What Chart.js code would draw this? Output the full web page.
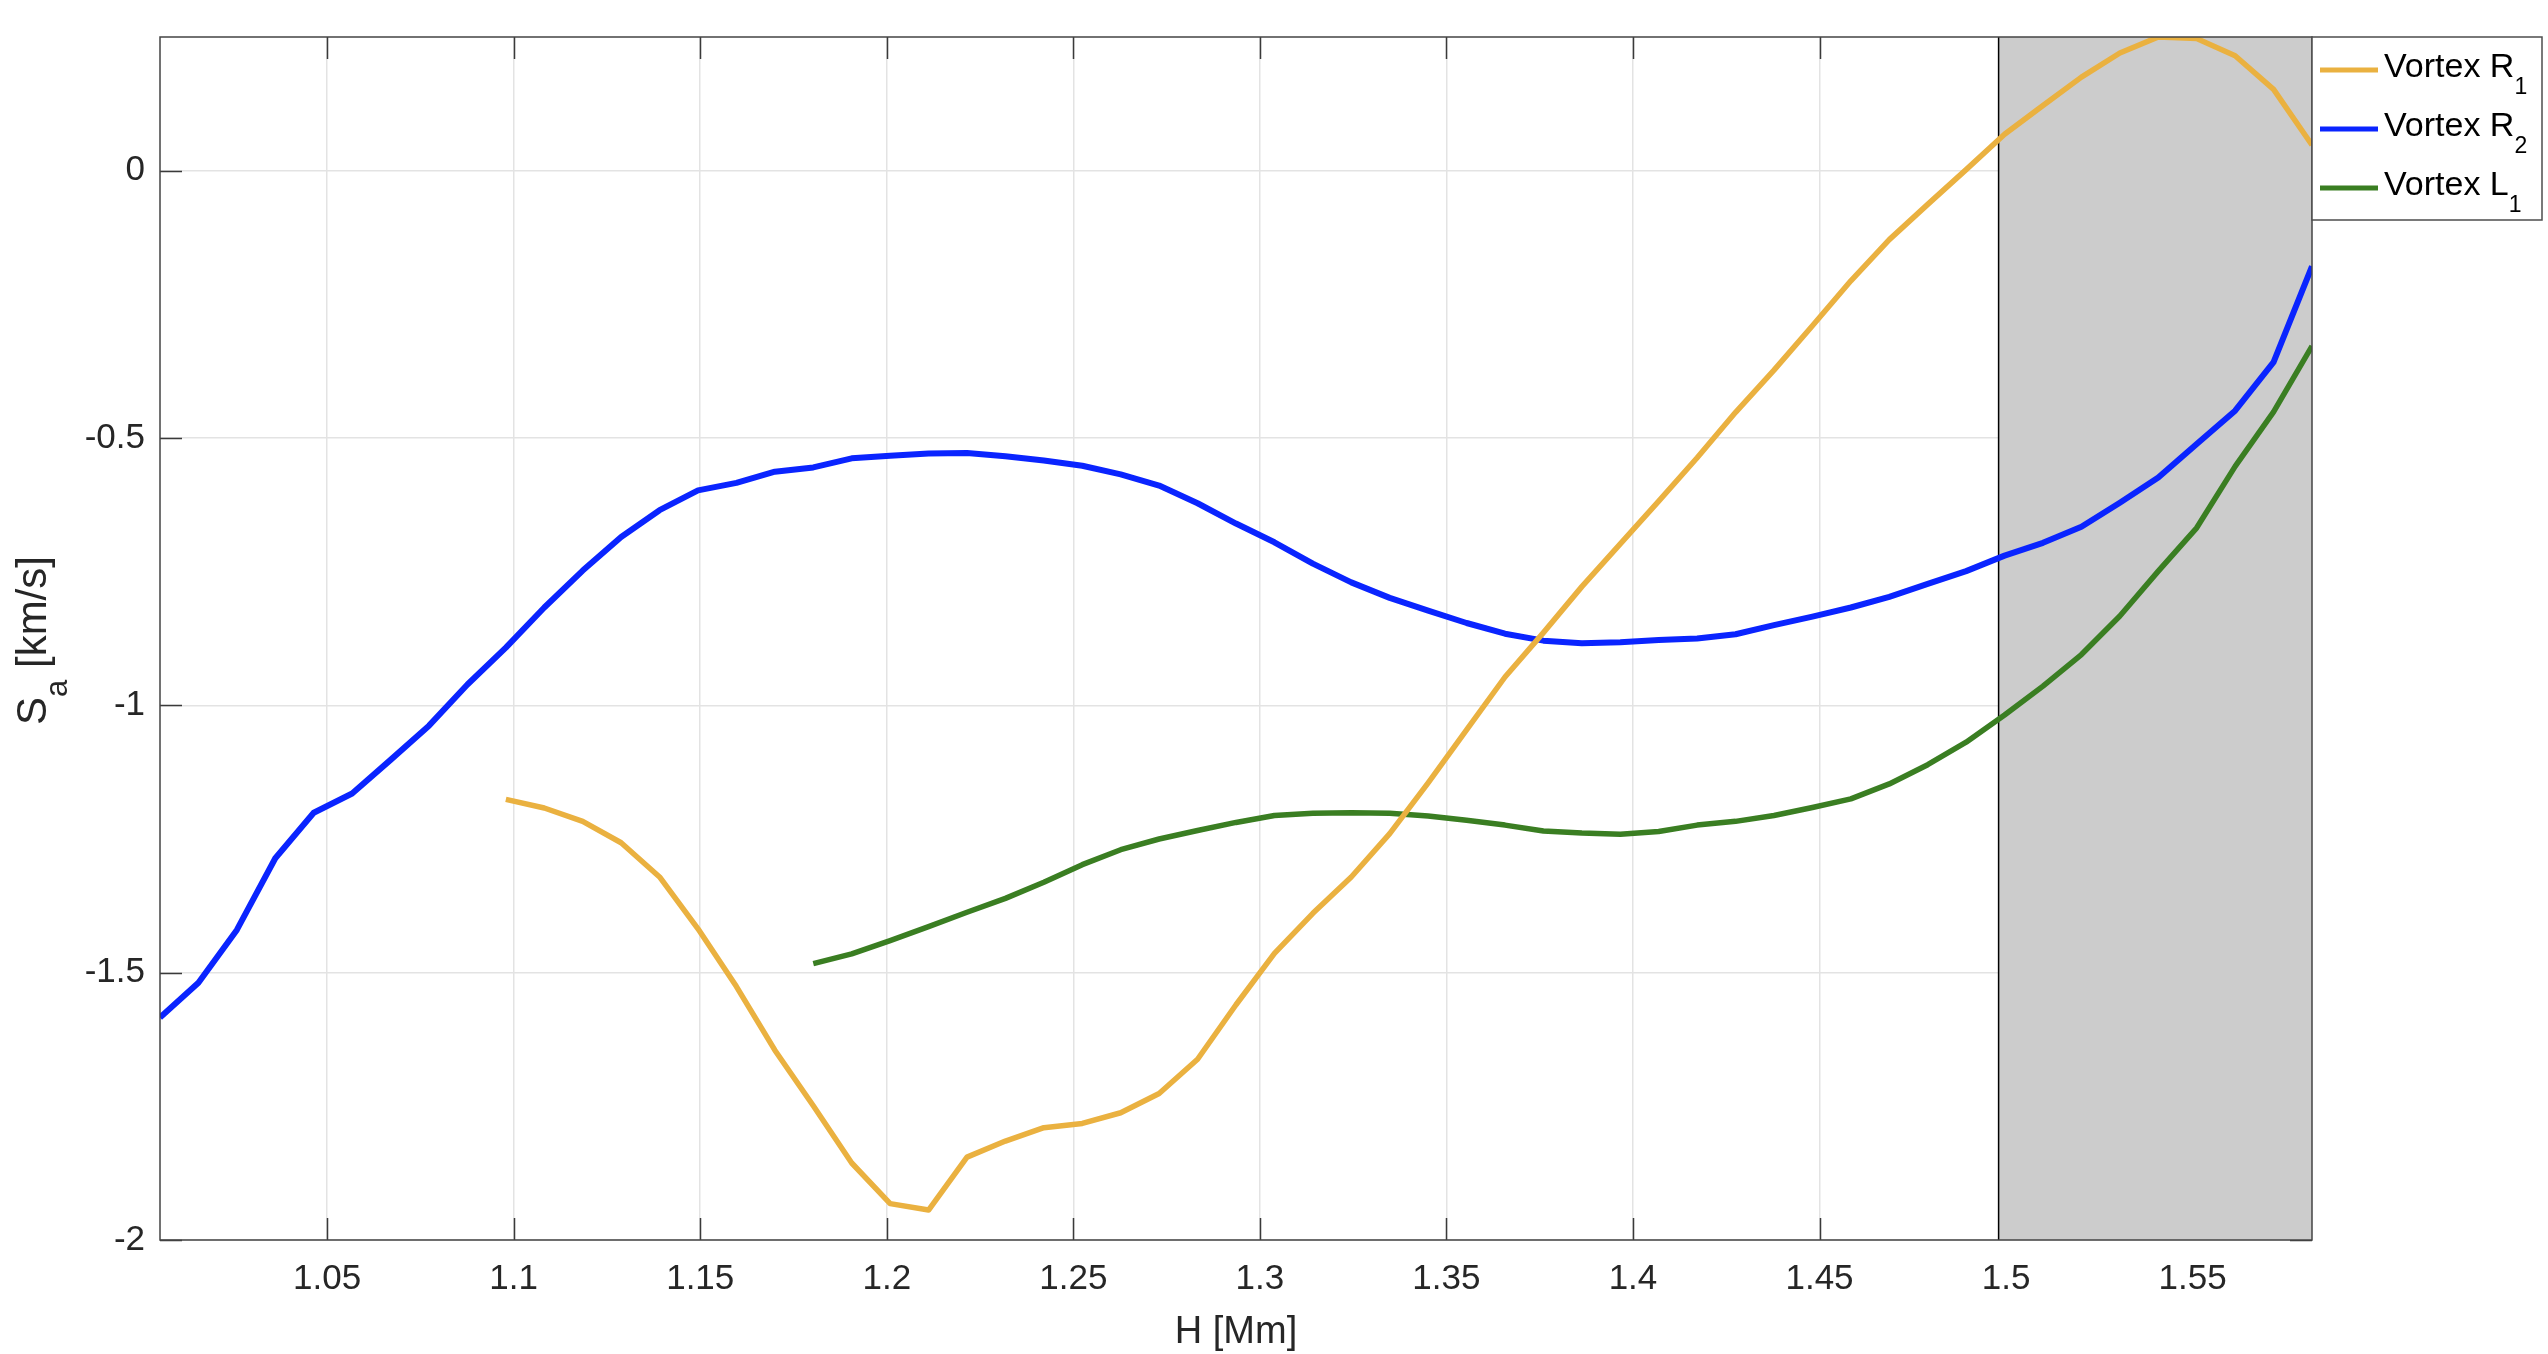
<!DOCTYPE html>
<html>
<head>
<meta charset="utf-8">
<style>
  html, body { margin: 0; padding: 0; background: #fff; overflow: hidden; }
</style>
<script src="https://cdn.jsdelivr.net/npm/chart.js@4.4.1/dist/chart.umd.min.js"></script>
</head>
<body>
<canvas id="sChart" width="2548" height="1354"></canvas>
<script>
// heights H [Mm]
const heights = [
  1.0052, 1.0155, 1.0258, 1.0361, 1.0464, 1.0567, 1.0670, 1.0773, 1.0876, 1.0979,
  1.1082, 1.1185, 1.1288, 1.1391, 1.1494, 1.1597, 1.1700, 1.1803, 1.1906, 1.2009,
  1.2112, 1.2215, 1.2318, 1.2421, 1.2524, 1.2627, 1.2730, 1.2833, 1.2936, 1.3039,
  1.3142, 1.3245, 1.3348, 1.3451, 1.3554, 1.3657, 1.3760, 1.3863, 1.3966, 1.4069,
  1.4172, 1.4275, 1.4378, 1.4481, 1.4584, 1.4687, 1.4790, 1.4893, 1.4996, 1.5099,
  1.5202, 1.5305, 1.5408, 1.5511, 1.5614, 1.5717, 1.5820
];

// S_a [km/s], null where the vortex is not tracked
const vortexR1 = [
  null, null, null, null, null, null, null, null, null, -1.176,
  -1.192, -1.217, -1.257, -1.321, -1.418, -1.526, -1.645, -1.749, -1.856, -1.932,
  -1.944, -1.845, -1.815, -1.790, -1.782, -1.762, -1.726, -1.662, -1.560, -1.464,
  -1.389, -1.321, -1.240, -1.145, -1.046, -0.947, -0.864, -0.778, -0.698, -0.618,
  -0.537, -0.452, -0.373, -0.290, -0.206, -0.129, -0.063, 0.002, 0.068, 0.122,
  0.175, 0.220, 0.250, 0.247, 0.215, 0.152, 0.048
];
const vortexR2 = [
  -1.584, -1.519, -1.420, -1.286, -1.201, -1.165, -1.102, -1.038, -0.961, -0.892,
  -0.817, -0.748, -0.685, -0.635, -0.598, -0.584, -0.563, -0.555, -0.538, -0.533,
  -0.529, -0.528, -0.534, -0.542, -0.552, -0.568, -0.589, -0.622, -0.660, -0.695,
  -0.735, -0.770, -0.799, -0.823, -0.846, -0.866, -0.879, -0.884, -0.882, -0.878,
  -0.875, -0.867, -0.850, -0.834, -0.817, -0.797, -0.773, -0.749, -0.720, -0.696,
  -0.666, -0.621, -0.574, -0.511, -0.449, -0.358, -0.179
];
const vortexL1 = [
  null, null, null, null, null, null, null, null, null, null,
  null, null, null, null, null, null, null, -1.483, -1.465, -1.440,
  -1.414, -1.387, -1.361, -1.331, -1.298, -1.270, -1.250, -1.234, -1.219, -1.206,
  -1.202, -1.201, -1.202, -1.207, -1.215, -1.224, -1.235, -1.239, -1.241, -1.236,
  -1.224, -1.217, -1.206, -1.191, -1.175, -1.147, -1.111, -1.069, -1.018, -0.964,
  -0.905, -0.833, -0.749, -0.668, -0.553, -0.451, -0.328
];

const xTicks = [1.05, 1.1, 1.15, 1.2, 1.25, 1.3, 1.35, 1.4, 1.45, 1.5, 1.55];
const xTickLabels = ['1.05', '1.1', '1.15', '1.2', '1.25', '1.3', '1.35', '1.4', '1.45', '1.5', '1.55'];
const yTicks = [-2, -1.5, -1, -0.5, 0];
const yTickLabels = ['-2', '-1.5', '-1', '-0.5', '0'];

const legendNames = ['Vortex R', 'Vortex R', 'Vortex L'];
const legendSubs = ['1', '2', '1'];

const shadeFrom = 1.498;   // start of grey band, runs to the end of the axis
const yMin = -2, yMax = 0.25;

const FONT = '"Liberation Sans", Arial, Helvetica, sans-serif';
const colors = ['#EAB140', '#0A24FF', '#3A7E22'];

function toPoints(vals) {
  const pts = [];
  vals.forEach((v, i) => { if (v !== null) pts.push({ x: heights[i], y: v }); });
  return pts;
}

// text with a TeX-like subscript: parts = [[text, sizePx, baselineShift], ...]
function partsWidth(ctx, parts) {
  let w = 0;
  parts.forEach(([t, size]) => { ctx.font = size + 'px ' + FONT; w += ctx.measureText(t).width; });
  return w;
}
function drawParts(ctx, x, y, parts) {
  let cx = x;
  parts.forEach(([t, size, dy]) => {
    ctx.font = size + 'px ' + FONT;
    ctx.fillText(t, cx, y + dy);
    cx += ctx.measureText(t).width;
  });
}

const decor = {
  id: 'decor',
  beforeDatasetsDraw(chart) {
    const { ctx, chartArea: a, scales: { x, y } } = chart;
    ctx.save();
    // inward tick marks (sit under the grey patch)
    ctx.strokeStyle = '#3a3a3a';
    ctx.lineWidth = 1.5;
    ctx.beginPath();
    xTicks.forEach(v => {
      const px = Math.round(x.getPixelForValue(v)) + 0.5;
      ctx.moveTo(px, a.bottom); ctx.lineTo(px, a.bottom - 22);
      ctx.moveTo(px, a.top); ctx.lineTo(px, a.top + 22);
    });
    yTicks.forEach(v => {
      const py = Math.round(y.getPixelForValue(v)) + 0.5;
      ctx.moveTo(a.left, py); ctx.lineTo(a.left + 22, py);
      ctx.moveTo(a.right, py); ctx.lineTo(a.right - 22, py);
    });
    ctx.stroke();

    // grey band
    const x0 = x.getPixelForValue(shadeFrom);
    ctx.fillStyle = '#cccccc';
    ctx.fillRect(x0, a.top, a.right - x0, a.bottom - a.top);
    ctx.strokeStyle = '#000';
    ctx.lineWidth = 1.5;
    ctx.beginPath();
    ctx.moveTo(x0, a.top); ctx.lineTo(x0, a.bottom);
    ctx.stroke();
    ctx.restore();
  },
  afterDatasetsDraw(chart) {
    const { ctx, chartArea: a } = chart;
    ctx.save();
    ctx.strokeStyle = '#444';
    ctx.lineWidth = 1.5;
    ctx.strokeRect(a.left, a.top, a.right - a.left, a.bottom - a.top);
    ctx.restore();
  },
  afterDraw(chart) {
    const { ctx, chartArea: a } = chart;
    ctx.save();
    ctx.fillStyle = '#262626';
    ctx.textBaseline = 'alphabetic';
    ctx.textAlign = 'left';

    // x title
    const xParts = [['H [Mm]', 38, 0]];
    const xw = partsWidth(ctx, xParts);
    drawParts(ctx, (a.left + a.right) / 2 - xw / 2, 1343, xParts);

    // y title, rotated
    const yParts = [['S', 42, 0], ['a', 31, 21], [' [km/s]', 42, 0]];
    const yw = partsWidth(ctx, yParts);
    ctx.save();
    ctx.translate(46, (a.top + a.bottom) / 2 + 2);
    ctx.rotate(-Math.PI / 2);
    drawParts(ctx, -yw / 2, 0, yParts);
    ctx.restore();

    // legend
    const bx = a.right, by = a.top, bw = 230, bh = 183;
    ctx.fillStyle = '#fff';
    ctx.fillRect(bx, by, bw, bh);
    ctx.strokeStyle = '#4d4d4d';
    ctx.lineWidth = 1.5;
    ctx.strokeRect(bx, by, bw, bh);
    legendNames.forEach((name, i) => {
      const cy = by + 33 + i * 59;
      ctx.strokeStyle = colors[i];
      ctx.lineWidth = 5;
      ctx.beginPath();
      ctx.moveTo(bx + 8, cy); ctx.lineTo(bx + 66, cy);
      ctx.stroke();
      ctx.fillStyle = '#000';
      drawParts(ctx, bx + 72, cy + 7, [[name, 34, 0], [legendSubs[i], 23, 17]]);
    });
    ctx.restore();
  }
};

new Chart(document.getElementById('sChart').getContext('2d'), {
  type: 'line',
  data: {
    datasets: [
      { label: 'Vortex R1', data: toPoints(vortexR1), borderColor: colors[0], borderWidth: 5.5 },
      { label: 'Vortex R2', data: toPoints(vortexR2), borderColor: colors[1], borderWidth: 6 },
      { label: 'Vortex L1', data: toPoints(vortexL1), borderColor: colors[2], borderWidth: 5.5 }
    ].map(d => Object.assign(d, { pointRadius: 0, tension: 0, fill: false, borderJoinStyle: 'round' }))
  },
  options: {
    responsive: false,
    animation: false,
    devicePixelRatio: 1,
    layout: { padding: { top: 37, right: 236, left: 0, bottom: 0 } },
    plugins: { legend: { display: false }, tooltip: { enabled: false } },
    scales: {
      x: {
        type: 'linear',
        min: heights[0],
        max: heights[heights.length - 1],
        afterBuildTicks: s => { s.ticks = xTicks.map(v => ({ value: v })); },
        afterFit: s => { s.height = 114; },
        grid: { color: '#e3e3e3', lineWidth: 1.5, drawTicks: false },
        border: { display: false },
        ticks: {
          padding: 18,
          maxRotation: 0,
          autoSkip: false,
          color: '#262626',
          font: { family: FONT, size: 35 },
          callback: v => xTickLabels[xTicks.indexOf(v)]
        }
      },
      y: {
        min: yMin,
        max: yMax,
        afterBuildTicks: s => { s.ticks = yTicks.map(v => ({ value: v })); },
        afterFit: s => { s.width = 160; },
        grid: { color: '#e3e3e3', lineWidth: 1.5, drawTicks: false },
        border: { display: false },
        ticks: {
          padding: 15,
          autoSkip: false,
          color: '#262626',
          font: { family: FONT, size: 35 },
          callback: v => yTickLabels[yTicks.indexOf(v)]
        }
      }
    }
  },
  plugins: [decor]
});
</script>
</body>
</html>
